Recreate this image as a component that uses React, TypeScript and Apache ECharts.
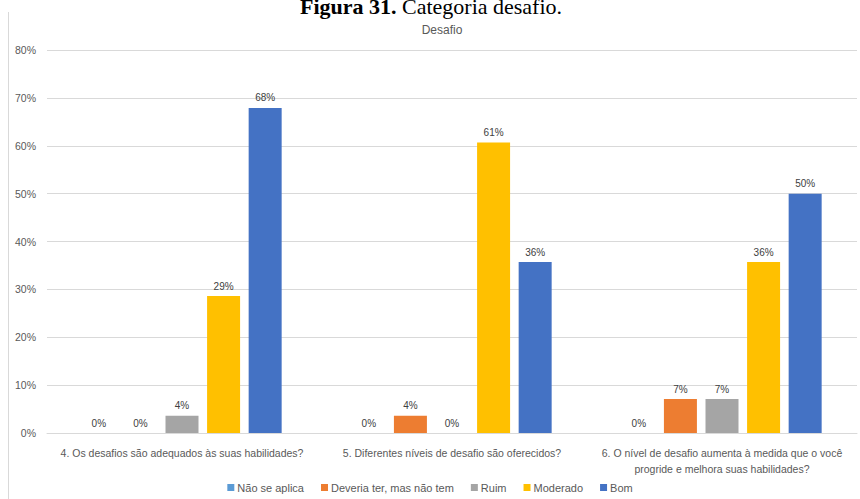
import React, { useEffect, useRef } from "react";
import * as echarts from "echarts";

const categories = [
  "4. Os desafios são adequados às suas habilidades?",
  "5. Diferentes níveis de desafio são oferecidos?",
  "6. O nível de desafio aumenta à medida que o você\nprogride e melhora suas habilidades?",
];
const seriesNames = ["Não se aplica", "Deveria ter, mas não tem", "Ruim", "Moderado", "Bom"];
const naoSeAplica = [0, 0, 0];
const deveriaTer = [0, 3.6, 7.1];
const ruim = [3.6, 0, 7.1];
const moderado = [28.6, 60.7, 35.7];
const bom = [67.9, 35.7, 50];
const colors = ["#5B9BD5", "#ED7D31", "#A5A5A5", "#FFC000", "#4472C4"];
const yTicks = [0, 10, 20, 30, 40, 50, 60, 70, 80];

const FONT = "Liberation Sans";

export default function App() {
  const ref = useRef<HTMLDivElement>(null);
  useEffect(() => {
    if (!ref.current) return;
    const chart = echarts.init(ref.current, null, { renderer: "svg" });
    const data = [naoSeAplica, deveriaTer, ruim, moderado, bom];
    chart.setOption({
      animation: false,
      backgroundColor: "#ffffff",
      textStyle: { fontFamily: FONT },
      title: {
        text: "Desafio",
        left: 437,
        textAlign: "center",
        top: 19,
        textStyle: { fontSize: 12, fontWeight: "normal", color: "#595959", fontFamily: FONT },
      },
      graphic: [
        {
          type: "group",
          children: [
            {
              type: "text",
              x: 431,
              y: 6,
              style: {
                text: "{b|Figura 31.} Categoria desafio.",
                fontFamily: "Liberation Serif",
                fontSize: 22,
                fill: "#000",
                align: "center",
                verticalAlign: "middle",
                rich: {
                  b: { fontWeight: "bold", fontFamily: "Liberation Serif", fontSize: 22, fill: "#000" },
                },
              },
            },
            {
              type: "line",
              shape: { x1: 8.5, y1: 12, x2: 8.5, y2: 499 },
              style: { stroke: "#D9D9D9", lineWidth: 1 },
            },
          ],
        },
      ],
      legend: {
        bottom: 1,
        left: "center",
        itemWidth: 7,
        itemHeight: 7,
        itemGap: 17,
        icon: "rect",
        textStyle: { fontSize: 11, color: "#595959", fontFamily: FONT, padding: [0, 0, 0, -2] },
        data: seriesNames,
      },
      grid: { left: 47, right: 3, top: 50, bottom: 66, containLabel: false },
      xAxis: {
        type: "category",
        data: categories,
        axisLine: { lineStyle: { color: "#D9D9D9" } },
        axisTick: { show: false },
        axisLabel: { fontSize: 10.5, color: "#595959", fontFamily: FONT, margin: 12, lineHeight: 16, interval: 0 },
      },
      yAxis: {
        type: "value",
        min: 0,
        max: 80,
        interval: 10,
        axisLine: { show: false },
        axisTick: { show: false },
        splitLine: { lineStyle: { color: "#D9D9D9" } },
        axisLabel: {
          fontSize: 10.5,
          color: "#595959",
          fontFamily: FONT,
          margin: 11,
          formatter: (v: number) => (yTicks.includes(v) ? v + "%" : ""),
        },
      },
      series: seriesNames.map((name, i) => ({
        name,
        type: "bar",
        data: data[i],
        barWidth: 33,
        barGap: "26%",
        itemStyle: { color: colors[i] },
        label: {
          show: true,
          position: "top",
          distance: 5,
          fontSize: 10,
          color: "#404040",
          fontFamily: FONT,
          formatter: (p: any) => Math.round(p.value) + "%",
        },
      })),
    });
    return () => chart.dispose();
  }, []);
  return (
    <div
      ref={ref}
      style={{ position: "fixed", left: 0, top: 0, width: 860, height: 499 }}
    />
  );
}
